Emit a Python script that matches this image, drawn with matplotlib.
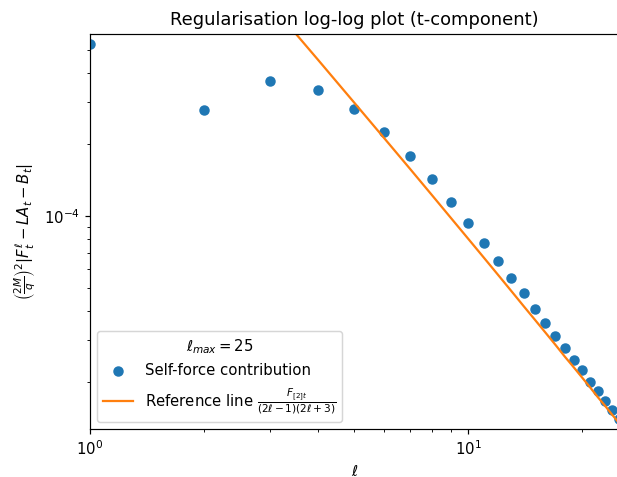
import numpy as np
import matplotlib
matplotlib.use("Agg")
import matplotlib.pyplot as plt

# ell values and the t-component self-force contributions
ell = np.arange(1, 26)
sf_values = [5.28e-4, 2.79e-4, 3.69e-4, 3.38e-4, 2.82e-4, 2.25e-4, 1.79e-4,
             1.43e-4, 1.14e-4, 9.32e-5, 7.72e-5, 6.47e-5, 5.49e-5, 4.72e-5,
             4.07e-5, 3.55e-5, 3.13e-5, 2.78e-5, 2.48e-5, 2.24e-5, 2.01e-5,
             1.84e-5, 1.67e-5, 1.53e-5, 1.40e-5]

# reference line F_[2]t / ((2l-1)(2l+3)), values at each ell
ref_values = [7.0e-3, 1.667e-3, 7.78e-4, 4.55e-4, 2.99e-4, 2.12e-4, 1.584e-4,
              1.228e-4, 9.80e-5, 8.01e-5, 6.67e-5, 5.64e-5, 4.83e-5, 4.18e-5,
              3.66e-5, 3.23e-5, 2.87e-5, 2.56e-5, 2.31e-5, 2.09e-5, 1.90e-5,
              1.73e-5, 1.59e-5, 1.46e-5, 1.35e-5]

ell_max = 25

dpi = 107.5
fig = plt.figure(figsize=(617 / dpi, 477 / dpi), dpi=dpi)
ax = fig.add_axes([0.1459, 0.1006, 0.857, 0.828])

ax.scatter(ell, sf_values, label='Self-force contribution')
ax.plot(ell, ref_values, color='C1',
        label=r'Reference line $\frac{F_{[2]t}}{(2\ell-1)(2\ell+3)}$')

ax.set_xscale('log')
ax.set_yscale('log')
ax.set_xlim(1, 25)
ax.set_ylim(1.27e-5, 5.82e-4)

ax.set_title('Regularisation log-log plot (t-component)')
ax.set_xlabel(r'$\ell$')
ax.set_ylabel(r'$\left(\frac{2M}{q}\right)^2|F^\ell_t - LA_t - B_t|$')
ax.legend(title=r'$\ell_{max} = %d$' % ell_max, loc='lower left')

fig.savefig('out.png', dpi=dpi)
